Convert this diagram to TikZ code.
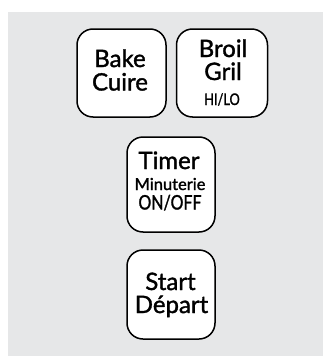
\documentclass[tikz,border=0pt]{standalone}
\usepackage{fontspec}
\setmainfont{Lato}
\newfontfamily\btnfont{Lato}[FakeBold=1.4]
\newfontfamily\btnfontnarrow{Lato}[FakeBold=1.4, FakeStretch=0.8]
\definecolor{panelgray}{RGB}{230,231,232}
\tikzset{
  btn/.style={draw=black, line width=1.5pt, fill=white, rounded corners=16pt,
    inner sep=0pt},
  big/.style={anchor=base, inner sep=0pt, font=\btnfont\fontsize{24}{28}\selectfont},
  mid/.style={anchor=base, inner sep=0pt, font=\btnfont\fontsize{16.5}{20}\selectfont},
  capsnarrow/.style={anchor=base, inner sep=0pt, font=\btnfontnarrow\fontsize{20}{24}\selectfont},
  capssmall/.style={anchor=base, inner sep=0pt, font=\btnfontnarrow\fontsize{16}{19}\selectfont},
}
\begin{document}
\begin{tikzpicture}[x=1pt,y=-1pt]
\useasboundingbox (0,0) rectangle (323,356);
\fill[panelgray] (8,12) rectangle (323,356);
% buttons
\node[btn, minimum width=89pt, minimum height=88pt] (bake) at (121.5,73) {};
\node[btn, minimum width=91pt, minimum height=88pt] (broil) at (222,73) {};
\node[btn, minimum width=88pt, minimum height=95pt] (timer) at (171,184.5) {};
\node[btn, minimum width=88pt, minimum height=89pt] (start) at (171,294.5) {};
% labels
\node[big] (bake1) at (120,67) {Bake};
\node[big] (bake2) at (120,90.5) {Cuire};
\node[big] (broil1) at (223,57) {Broil};
\node[big] (broil2) at (223,80) {Gril};
\node[capssmall] (broil3) at (222,105) {HI/LO};
\node[big] (timer1) at (169,169) {Timer};
\node[mid] (timer2) at (170,190) {Minuterie};
\node[capsnarrow] (timer3) at (170,209.5) {ON/OFF};
\node[big] (start1) at (170.5,290) {Start};
\node[big] (start2) at (171.5,313) {Départ};
\end{tikzpicture}
\end{document}
